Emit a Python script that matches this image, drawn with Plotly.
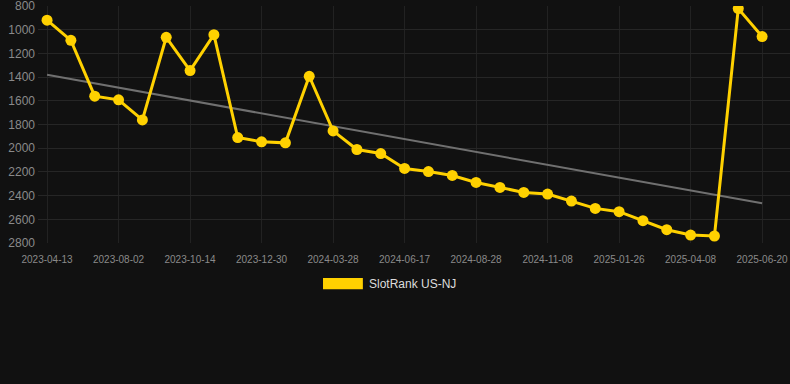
import numpy as np
import plotly.graph_objects as go

dates = [
    "2023-04-13", "2023-05-20", "2023-06-26", "2023-08-02", "2023-08-26", "2023-09-19",
    "2023-10-14", "2023-11-09", "2023-12-04", "2023-12-30", "2024-01-29", "2024-02-27",
    "2024-03-28", "2024-04-24", "2024-05-21", "2024-06-17", "2024-07-11", "2024-08-04",
    "2024-08-28", "2024-09-21", "2024-10-15", "2024-11-08", "2024-12-04", "2024-12-30",
    "2025-01-26", "2025-02-19", "2025-03-15", "2025-04-08", "2025-05-02", "2025-05-26",
    "2025-06-20",
]
ranks = [
    920, 1090, 1561, 1592, 1761, 1064, 1345, 1042, 1910, 1946, 1955, 1393,
    1854, 2011, 2045, 2171, 2197, 2230, 2289, 2331, 2373, 2387, 2446, 2508,
    2536, 2612, 2688, 2733, 2741, 822, 1058,
]
tick_labels = dates[::3]
y_ticks = [800, 1000, 1200, 1400, 1600, 1800, 2000, 2200, 2400, 2600, 2800]
series_name = "SlotRank US-NJ"

idx = np.arange(len(ranks))
slope, intercept = np.polyfit(idx, ranks, 1)
trend = slope * idx + intercept

YELLOW = "#FFD100"
BG = "#111111"

fig = go.Figure()
fig.add_trace(go.Scatter(
    x=dates, y=trend, mode="lines",
    line=dict(color="#707070", width=2),
    hoverinfo="skip", showlegend=False,
))
fig.add_trace(go.Scatter(
    x=dates, y=ranks, mode="lines+markers", name=series_name,
    line=dict(color=YELLOW, width=3),
    marker=dict(color=YELLOW, size=11),
    showlegend=False,
))

fig.update_layout(
    width=790, height=384,
    margin=dict(l=38, r=0, t=6, b=141),
    paper_bgcolor=BG, plot_bgcolor=BG,
    font=dict(family="Arial, Liberation Sans, sans-serif", color="#8a8a8a"),
    xaxis=dict(
        type="category",
        range=[-0.38, 31.17],
        tickmode="array", tickvals=tick_labels, ticktext=tick_labels,
        tickfont=dict(size=10, color="#8a8a8a"),
        showgrid=True, gridcolor="#222222", gridwidth=1,
        zeroline=False, showline=False, ticks="", ticklabelstandoff=9,
        ticklabeloverflow="allow",
    ),
    yaxis=dict(
        range=[2800, 800],
        tickmode="array", tickvals=y_ticks,
        tickfont=dict(size=12, color="#8a8a8a"),
        showgrid=True, gridcolor="#262626", gridwidth=1,
        zeroline=False, showline=False, ticks="", ticklabelstandoff=2,
        ticklabeloverflow="allow",
    ),
    shapes=[dict(
        type="rect", xref="paper", yref="paper",
        x0=0.379, x1=0.432, y0=-0.1477, y1=-0.1955,
        fillcolor=YELLOW, line=dict(width=0),
    )],
    annotations=[dict(
        text=series_name, xref="paper", yref="paper",
        x=0.4375, y=-0.173, xanchor="left", yanchor="middle",
        showarrow=False, font=dict(size=12, color="#dddddd"),
    )],
)

fig.write_html(
    "out.html",
    config={"displayModeBar": False},
    post_script="document.body.style.margin='0';document.body.style.background='#111111';",
)
